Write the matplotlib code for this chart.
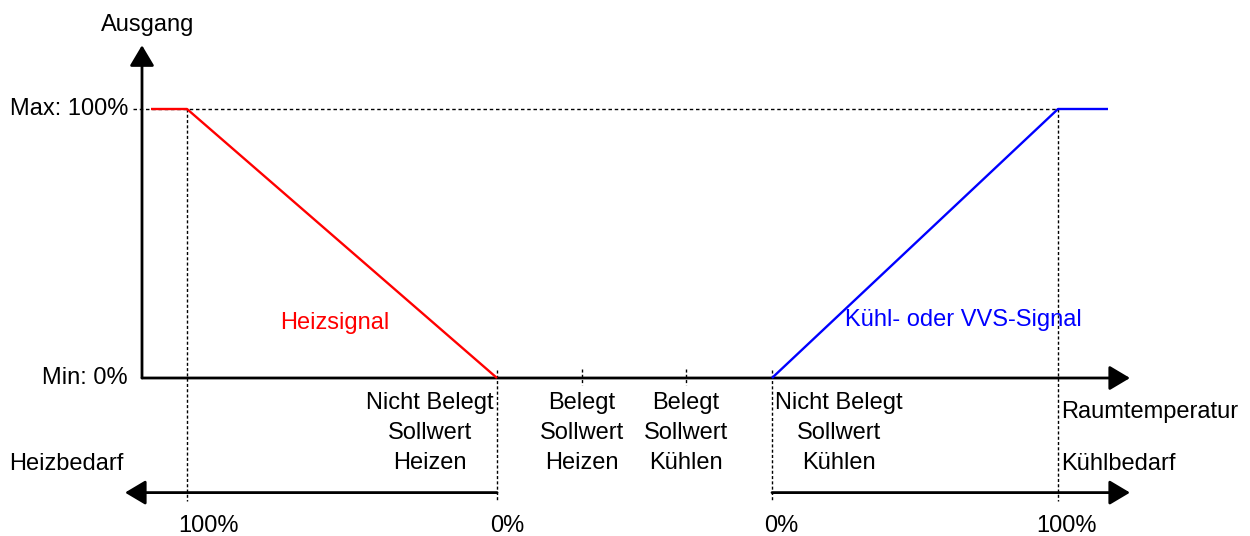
import matplotlib
matplotlib.use("Agg")
import matplotlib.pyplot as plt

plt.rcParams['font.family'] = ['Liberation Sans', 'DejaVu Sans']

# ---- data (x in arbitrary room-temperature units, y in % output) ----
heat_x = [0.9, 4.5, 35.5]
heat_y = [100, 100, 0]
cool_x = [63.0, 91.6, 96.6]
cool_y = [0, 100, 100]
sp_unocc_heat = 35.5
sp_occ_heat = 44.0
sp_occ_cool = 54.4
sp_unocc_cool = 63.0
heat_demand_100 = 4.5
cool_demand_100 = 91.6
x_axis_end = 98.8
y_axis_end = 123.7
demand_axis_y = -42.6

y_labels = ["Min: 0%", "Max: 100%"]
y_label_vals = [0, 100]
setpoint_labels = ["Nicht Belegt\nSollwert\nHeizen", "Belegt\nSollwert\nHeizen",
                   "Belegt\nSollwert\nKühlen", "Nicht Belegt\nSollwert\nKühlen"]

W, H = 1250, 536
fig = plt.figure(figsize=(W / 100, H / 100), dpi=100)
ax = fig.add_axes([0, 0, 1, 1])
# layout: x unit = 10 px, origin at px 142 ; y unit = 2.69 px, origin at py 378
ax.set_xlim(-14.2, 110.8)
ax.set_ylim(-(H - 378) / 2.69, 378 / 2.69)
ax.axis('off')

FS = 17
lw_axis = 2.0
dot = (0, (2.2, 1.6))

# max reference dashed line
ax.plot([-0.9, cool_demand_100], [100, 100], color='black', lw=1, ls=(0, (2.5, 2)), zorder=1)

# vertical dotted lines
for xv, ytop in [(heat_demand_100, 100), (sp_unocc_heat, 3), (sp_unocc_cool, 3), (cool_demand_100, 100)]:
    ax.plot([xv, xv], [ytop, demand_axis_y - 3], color='black', lw=1, ls=dot, zorder=1)
for xv in [sp_occ_heat, sp_occ_cool]:
    ax.plot([xv, xv], [3.5, -2.7], color='black', lw=1, ls=dot, zorder=1)

# axes arrows
arrow_kw = dict(arrowstyle='-|>,head_length=0.42,head_width=0.25', mutation_scale=30,
                lw=lw_axis, color='black', shrinkA=0, shrinkB=0)
ax.annotate("", xy=(0, y_axis_end), xytext=(0, 0), arrowprops=arrow_kw)
ax.annotate("", xy=(x_axis_end, 0), xytext=(0, 0), arrowprops=arrow_kw)
ax.annotate("", xy=(-1.7, demand_axis_y), xytext=(sp_unocc_heat, demand_axis_y), arrowprops=arrow_kw)
ax.annotate("", xy=(x_axis_end, demand_axis_y), xytext=(sp_unocc_cool, demand_axis_y), arrowprops=arrow_kw)

# signals
ax.plot(heat_x, heat_y, color='#ff0000', lw=1.7, zorder=3, solid_capstyle='butt')
ax.plot(cool_x, cool_y, color='#0000ff', lw=1.7, zorder=3, solid_capstyle='butt')

# texts
ax.text(0.6, 131.2, "Ausgang", fontsize=FS, ha='center', va='center')
for lab, v in zip(y_labels, y_label_vals):
    ax.text(-1.4, v, lab, fontsize=FS, ha='right', va='center')
ax.text(13.8, 20.5, "Heizsignal", fontsize=FS, color='#ff0000', ha='left', va='center')
ax.text(70.3, 21.5, "Kühl- oder VVS-Signal", fontsize=FS, color='#0000ff', ha='left', va='center')

for lab, xv in zip(setpoint_labels, [28.8, sp_occ_heat, sp_occ_cool, 69.7]):
    ax.text(xv, -20.3, lab, fontsize=FS, ha='center', va='center', multialignment='center', linespacing=1.47)

ax.text(91.9, -12.8, "Raumtemperatur", fontsize=FS, ha='left', va='center')
ax.text(-13.3, -32.0, "Heizbedarf", fontsize=FS, ha='left', va='center')
ax.text(91.9, -32.0, "Kühlbedarf", fontsize=FS, ha='left', va='center')

for lab, xv in [("100%", 6.6), ("0%", 36.5), ("0%", 63.9), ("100%", 92.4)]:
    ax.text(xv, -55.0, lab, fontsize=FS, ha='center', va='center')

fig.savefig("out.png", dpi=100)
